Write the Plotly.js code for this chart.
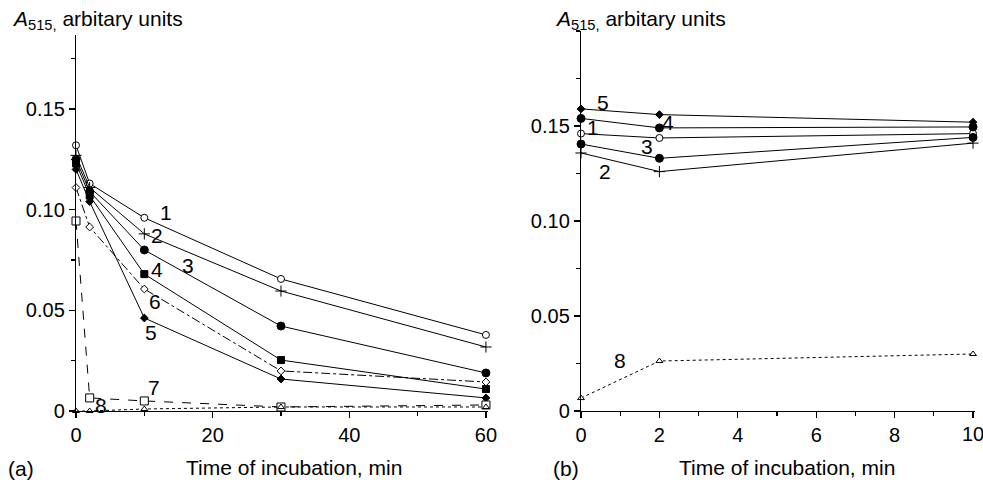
<!DOCTYPE html>
<html>
<head>
<meta charset="utf-8">
<script src="https://cdn.plot.ly/plotly-3.0.1.min.js"></script>
<style>html,body{margin:0;padding:0;background:#fff;}#chart{width:983px;height:485px;}</style>
</head>
<body>
<div id="chart"></div>
<script>
// Panel (a): time of incubation 0-60 min
const timeA = [0, 2, 10, 30, 60];
const a1 = [0.132, 0.113, 0.096, 0.0656, 0.0378];
const a2 = [0.127, 0.111, 0.088, 0.0596, 0.0318];
const a3 = [0.125, 0.109, 0.080, 0.0422, 0.0189];
const a4 = [0.123, 0.107, 0.068, 0.0253, 0.0109];
const a5 = [0.120, 0.104, 0.0462, 0.0159, 0.0065];
const a6 = [0.111, 0.0914, 0.0606, 0.0199, 0.0144];
const a7 = [0.0944, 0.0065, 0.005, 0.002, 0.003];
const a8 = [0, 0, 0.001, 0.002, 0.002];
// Panel (b): time of incubation 0-10 min
const timeB = [0, 2, 10];
const b1 = [0.146, 0.1437, 0.146];
const b2 = [0.1358, 0.126, 0.141];
const b3 = [0.1405, 0.133, 0.144];
const b4 = [0.154, 0.149, 0.1495];
const b5 = [0.159, 0.156, 0.152];
const b8 = [0.0068, 0.0263, 0.030];
// Tick labels
const yTickVals = [0, 0.05, 0.10, 0.15];
const yTickText = ['0', '0.05', '0.10', '0.15'];
const xTickValsA = [0, 20, 40, 60];
const xTickValsB = [0, 2, 4, 6, 8, 10];
const xTickTextB = ['0', '2', '4', '6', '8', '10'];
// Curve labels
const labelsA = ['1', '2', '3', '4', '6', '5', '7', '8'];
const labelAx = [13.2, 11.9, 16.4, 11.9, 11.6, 11.0, 11.4, 3.7];
const labelAy = [0.0984, 0.087, 0.0725, 0.0705, 0.0546, 0.0392, 0.0119, 0.0025];
const labelsB = ['5', '4', '1', '3', '2', '8'];
const labelBx = [0.56, 2.22, 0.31, 1.68, 0.61, 1.0];
const labelBy = [0.1626, 0.1516, 0.149, 0.139, 0.126, 0.0268];

const FONT = 'Liberation Sans, Arial, Helvetica, sans-serif';
const styles = {
  s1: {sym: 'circle', fill: 'white', size: 7, dash: 'solid'},
  s2: {sym: 'cross-thin', fill: 'black', size: 8, dash: 'solid'},
  s3: {sym: 'circle', fill: 'black', size: 8, dash: 'solid'},
  s4: {sym: 'square', fill: 'black', size: 7, dash: 'solid'},
  s5: {sym: 'diamond', fill: 'black', size: 6, dash: 'solid'},
  s6: {sym: 'diamond', fill: 'white', size: 6, dash: 'dashdot'},
  s7: {sym: 'square', fill: 'white', size: 8, dash: 'dash'},
  s8: {sym: 'triangle-up', fill: 'white', size: 6, dash: 'dot'}
};
function tr(x, y, st, xa, ya) {
  return {
    x: x, y: y, xaxis: xa, yaxis: ya, type: 'scatter', mode: 'lines+markers',
    cliponaxis: false,
    line: {color: 'black', width: 1, dash: st.dash},
    marker: {symbol: st.sym, size: st.size, color: st.fill, line: {color: 'black', width: 1}},
    showlegend: false, hoverinfo: 'skip'
  };
}
const data = [
  tr(timeA, a1, styles.s1, 'x', 'y'),
  tr(timeA, a2, styles.s2, 'x', 'y'),
  tr(timeA, a3, styles.s3, 'x', 'y'),
  tr(timeA, a4, styles.s4, 'x', 'y'),
  tr(timeA, a5, styles.s5, 'x', 'y'),
  tr(timeA, a6, styles.s6, 'x', 'y'),
  tr(timeA, a7, styles.s7, 'x', 'y'),
  tr(timeA, a8, styles.s8, 'x', 'y'),
  tr(timeB, b1, styles.s1, 'x2', 'y2'),
  tr(timeB, b2, styles.s2, 'x2', 'y2'),
  tr(timeB, b3, styles.s3, 'x2', 'y2'),
  tr(timeB, b4, styles.s3, 'x2', 'y2'),
  tr(timeB, b5, styles.s5, 'x2', 'y2'),
  tr(timeB, b8, styles.s8, 'x2', 'y2')
];

const axBase = {
  showline: true, linecolor: 'black', linewidth: 1.2, mirror: false,
  ticks: 'outside', ticklen: 6, tickwidth: 1.2, tickcolor: 'black',
  showgrid: false, zeroline: false, fixedrange: true,
  tickfont: {family: FONT, size: 20, color: 'black'}
};
function ax(extra) { return Object.assign({}, axBase, extra); }

const annotations = [];
labelsA.forEach((t, i) => annotations.push({
  text: t, x: labelAx[i], y: labelAy[i], xref: 'x', yref: 'y', showarrow: false,
  font: {family: FONT, size: 21, color: 'black'}
}));
labelsB.forEach((t, i) => annotations.push({
  text: t, x: labelBx[i], y: labelBy[i], xref: 'x2', yref: 'y2', showarrow: false,
  font: {family: FONT, size: 21, color: 'black'}
}));
const txt = (text, x, y, xa) => ({
  text: text, x: x, y: y, xref: 'paper', yref: 'paper', xanchor: xa || 'left', yanchor: 'middle',
  showarrow: false, font: {family: FONT, size: 21, color: 'black'}
});
annotations.push(txt('<i>A</i><sub>515,</sub> arbitary units', 10 / 983, (485 - 20) / 485));
annotations.push(txt('<i>A</i><sub>515,</sub> arbitary units', 553 / 983, (485 - 20) / 485));
annotations.push(txt('Time of incubation, min', 294 / 983, (485 - 467) / 485, 'center'));
annotations.push(txt('Time of incubation, min', 787 / 983, (485 - 467) / 485, 'center'));
annotations.push(txt('(a)', 6 / 983, (485 - 468) / 485));
annotations.push(txt('(b)', 551 / 983, (485 - 468) / 485));
// last x tick label of panel (b), partly cut by the right edge as in the reference
annotations.push({
  text: xTickTextB[xTickTextB.length - 1], x: xTickValsB[xTickValsB.length - 1], xref: 'x2',
  y: (485 - 434) / 485, yref: 'paper', xanchor: 'center', yanchor: 'middle', showarrow: false,
  font: {family: FONT, size: 20, color: 'black'}
});

const layout = {
  width: 983, height: 485,
  margin: {l: 0, r: 0, t: 0, b: 0},
  paper_bgcolor: 'white', plot_bgcolor: 'white',
  showlegend: false,
  xaxis: ax({domain: [76 / 983, 488 / 983], range: [0, 60.3], tickvals: xTickValsA,
    minor: {dtick: 10, tick0: 0, ticks: 'outside', ticklen: 4, tickcolor: 'black', showgrid: false}, anchor: 'y'}),
  yaxis: ax({domain: [74 / 485, 450 / 485], range: [0, 0.1868], tickvals: yTickVals, ticktext: yTickText,
    minor: {dtick: 0.025, tick0: 0, ticks: 'outside', ticklen: 4, tickcolor: 'black', showgrid: false}, anchor: 'x'}),
  xaxis2: ax({domain: [581 / 983, 975 / 983], range: [0, 10.05], tickvals: xTickValsB,
    ticktext: xTickTextB.slice(0, -1).concat(['']),
    minor: {dtick: 1, tick0: 0, ticks: 'outside', ticklen: 4, tickcolor: 'black', showgrid: false}, anchor: 'y2'}),
  yaxis2: ax({domain: [74 / 485, 454 / 485], range: [0, 0.2], tickvals: yTickVals, ticktext: yTickText,
    minor: {dtick: 0.025, tick0: 0, ticks: 'outside', ticklen: 4, tickcolor: 'black', showgrid: false}, anchor: 'x2'}),
  annotations: annotations
};
Plotly.newPlot('chart', data, layout, {staticPlot: true, displayModeBar: false});
</script>
</body>
</html>
